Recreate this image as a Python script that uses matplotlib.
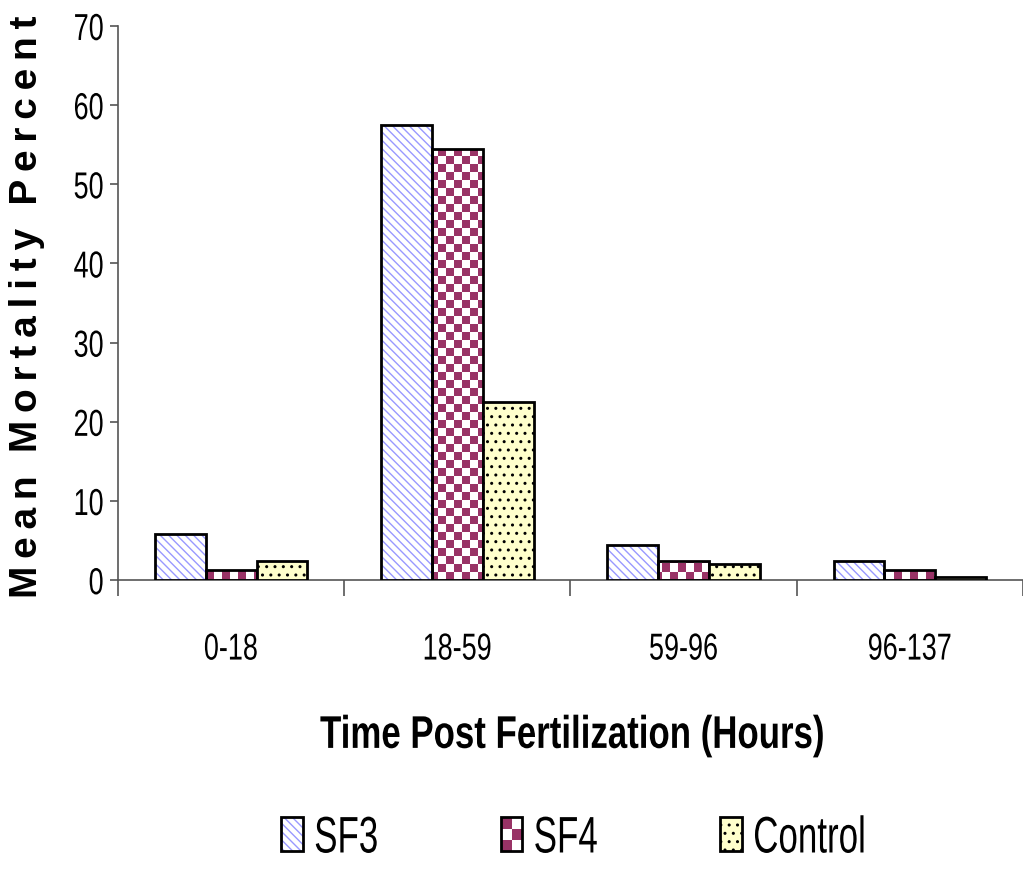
import numpy as np
import matplotlib.pyplot as plt
from matplotlib.patches import Rectangle
from matplotlib.colors import ListedColormap
from matplotlib.patheffects import AbstractPathEffect
from matplotlib.transforms import Affine2D
from matplotlib.legend_handler import HandlerBase

plt.rcParams['font.family'] = ['Liberation Sans', 'DejaVu Sans']

periods = ["0-18", "18-59", "59-96", "96-137"]
series = ["SF3", "SF4", "Control"]
sf3 = [5.8, 57.5, 4.5, 2.4]
sf4 = [1.3, 54.5, 2.4, 1.3]
control = [2.4, 22.5, 2.0, 0.4]

SF3_HATCH = (0.6, 0.6, 1.0, 1.0)
MAROON = "#993366"
CREAM = "#FFFFCC"


class Condensed(AbstractPathEffect):
    """Squeeze glyphs horizontally (narrow face look) around an anchor."""

    def __init__(self, sx=0.72, anchor="center"):
        super().__init__()
        self.sx = sx
        self.anchor = anchor

    def draw_path(self, renderer, gc, tpath, affine, rgbFace=None):
        xs = tpath.vertices[:, 0]
        if len(xs) == 0:
            return
        if self.anchor == "right":
            cx = xs.max()
        elif self.anchor == "left":
            cx = xs.min()
        else:
            cx = 0.5 * (xs.min() + xs.max())
        squeeze = Affine2D().translate(-cx, 0).scale(self.sx, 1).translate(cx, 0)
        renderer.draw_path(gc, tpath, squeeze + affine, rgbFace)


class HandlerChecker(HandlerBase):
    def create_artists(self, legend, orig_handle, xdescent, ydescent, width, height,
                       fontsize, trans):
        x0, y0 = -xdescent, -ydescent
        arts = [Rectangle((x0, y0), width, height, facecolor="white", edgecolor="none",
                          transform=trans)]
        nc, nr = 2, 3
        cw, ch = width / nc, height / nr
        for i in range(nr):
            for j in range(nc):
                if (i + j) % 2 == 0:
                    arts.append(Rectangle((x0 + j * cw, y0 + i * ch), cw, ch,
                                          facecolor=MAROON, edgecolor="none", transform=trans))
        arts.append(Rectangle((x0, y0), width, height, facecolor="none", edgecolor="black",
                              lw=2, transform=trans))
        return arts


fig = plt.figure(figsize=(10.23, 8.7), dpi=100)
ax = fig.add_axes([0.1153, 0.332, 0.8847, 0.637])

x = np.arange(len(periods))
w = 0.225
lw = 2.0

b1 = ax.bar(x - w, sf3, w, facecolor="white", edgecolor="black", lw=lw,
            hatch="\\\\\\\\", zorder=3)
for p in b1:
    p._hatch_color = SF3_HATCH
b2 = ax.bar(x, sf4, w, facecolor="none", edgecolor="black", lw=lw, zorder=3)
b3 = ax.bar(x + w, control, w, facecolor=CREAM, edgecolor="black", lw=lw,
            hatch="..", zorder=3)

ax.set_xlim(-0.5, 3.5)
ax.set_ylim(0, 70)

# checkerboard fill for SF4, one image clipped to each bar
bbox = ax.get_window_extent()
cell = 8
nx = int(bbox.width / cell) + 1
ny = int(bbox.height / cell) + 1
checker = (np.add.outer(np.arange(ny), np.arange(nx)) % 2).astype(float)
cmap = ListedColormap(["white", MAROON])
for p in b2:
    im = ax.imshow(checker, cmap=cmap,
                   extent=(-0.5, -0.5 + nx * cell * 4 / bbox.width, 0, ny * cell * 70 / bbox.height),
                   origin="lower", aspect="auto", interpolation="nearest", zorder=2.5)
    im.set_clip_path(p)
ax.set_xlim(-0.5, 3.5)
ax.set_ylim(0, 70)

ax.spines["top"].set_visible(False)
ax.spines["right"].set_visible(False)
for s in ("left", "bottom"):
    ax.spines[s].set_color("#555555")
    ax.spines[s].set_linewidth(1.2)
ax.set_yticks(range(0, 71, 10))
ax.set_xticks([-0.5, 0.5, 1.5, 2.5, 3.5])
ax.set_xticklabels([])
ax.set_xticks(x, minor=True)
ax.set_xticklabels(periods, minor=True)
ax.tick_params(axis="x", which="minor", length=0, pad=37, labelsize=27)
ax.tick_params(axis="x", which="major", length=11.5, width=1.2, direction="out", color="#555555")
ax.tick_params(axis="y", length=6, width=1.2, direction="out", color="#555555",
               labelsize=27, pad=4)

for lab in ax.get_yticklabels():
    lab.set_path_effects([Condensed(0.72, "right")])
for lab in ax.get_xticklabels(minor=True):
    lab.set_path_effects([Condensed(0.72, "center")])

# letter-spaced y title: thin spaces between letters, wider gaps between words
ts = "\u2009"
ylabel = (ts * 3).join(ts.join(word) for word in ["Mean", "Mortality", "Percent"])
fig.text(0.026, 0.647, ylabel, rotation=90, ha="center", va="center",
         fontsize=28, fontweight="bold")
fig.text(0.560, 0.153, "Time Post Fertilization (Hours)", ha="center", va="center",
         fontsize=33, fontweight="bold", path_effects=[Condensed(0.76, "center")])

h1 = Rectangle((0, 0), 1, 1, facecolor="white", edgecolor="black", lw=2, hatch="\\\\\\\\")
h1._hatch_color = SF3_HATCH
h2 = Rectangle((0, 0), 1, 1)
h3 = Rectangle((0, 0), 1, 1, facecolor=CREAM, edgecolor="black", lw=2, hatch="..")
leg = fig.legend([h1, h2, h3], series, loc="center", bbox_to_anchor=(0.5865, 0.0345), ncol=3,
                 frameon=False, fontsize=37, handlelength=0.42, handleheight=0.64,
                 handletextpad=0.22, columnspacing=1.8,
                 handler_map={h2: HandlerChecker()})
for t in leg.get_texts():
    t.set_path_effects([Condensed(0.68, "left")])

fig.savefig("out.png", dpi=100)
